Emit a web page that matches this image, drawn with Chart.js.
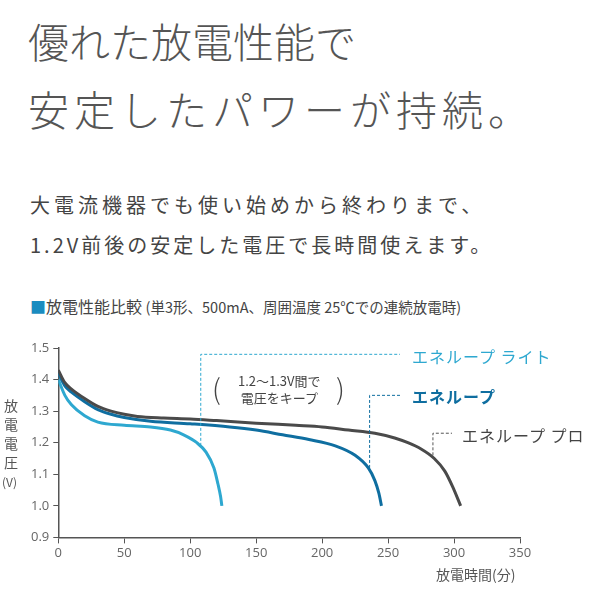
<!DOCTYPE html>
<html><head><meta charset="utf-8">
<script src="https://cdn.jsdelivr.net/npm/chart.js@4/dist/chart.umd.min.js"></script>
<style>
body{margin:0;width:600px;height:600px;background:#fff;font-family:"Noto Sans CJK JP","Noto Sans",sans-serif;color:#555;position:relative;overflow:hidden}
.t{position:absolute;left:28px;font-size:41px;font-weight:300;color:#555;letter-spacing:5px}
.s{position:absolute;left:30px;font-size:20px;color:#444;letter-spacing:4px}
#wrap{position:absolute;left:0;top:330px;width:600px;height:270px}
.lab{position:absolute;font-size:15px;white-space:nowrap}
</style></head><body>
<div class="t" style="top:10px;letter-spacing:0px">優れた放電性能で</div>
<div class="t" style="top:78px">安定したパワーが持続。</div>
<div class="s" style="top:190px">大電流機器でも使い始めから終わりまで、</div>
<div class="s" style="top:230px;letter-spacing:3px">1.2V前後の安定した電圧で長時間使えます。</div>
<div style="position:absolute;left:30px;top:294px;font-size:16px;color:#444"><span style="color:#1a8cc0">■</span>放電性能比較 <span style="font-size:14.5px">(単3形、500mA、周囲温度 25℃での連続放電時)</span></div>
<div id="wrap"><canvas id="c"></canvas></div>
<div class="lab" style="left:3px;top:396px;width:16px;line-height:19px;font-size:14px;text-align:center">放<br>電<br>電<br>圧<br><span style="font-size:12px;margin-left:-3px">(V)</span></div>
<div class="lab" style="left:436px;top:564px;font-size:14px">放電時間(分)</div>
<div class="lab" style="left:412px;top:344px;color:#2ea8d0;font-size:16px;letter-spacing:1px">エネループ ライト</div>
<div class="lab" style="left:412px;top:384px;color:#0f6ea0;font-size:16px;font-weight:bold;letter-spacing:1px">エネループ</div>
<div class="lab" style="left:462px;top:423px;color:#444;font-size:16px;letter-spacing:1px">エネループ プロ</div>
<div class="lab" style="left:212px;top:368px;font-size:28px;color:#444;font-weight:200">(</div>
<div class="lab" style="left:336px;top:368px;font-size:28px;color:#444;font-weight:200">)</div>
<div class="lab" style="left:238px;top:372px;font-size:13px;color:#444;line-height:17px;text-align:center">1.2〜1.3V間で<br>電圧をキープ</div>
<script>
const xTicks = [0, 50, 100, 150, 200, 250, 300, 350];
const proX = [0, 5, 10, 20, 30, 40, 50, 60, 80, 100, 120, 150, 180, 200, 220, 240, 255, 265, 275, 285, 293, 299, 305];
const proY = [1.43, 1.39, 1.37, 1.34, 1.315, 1.30, 1.29, 1.283, 1.278, 1.275, 1.27, 1.262, 1.255, 1.25, 1.24, 1.23, 1.215, 1.2, 1.18, 1.15, 1.11, 1.06, 1.0];
const stdX = [0, 5, 10, 20, 30, 40, 50, 70, 100, 130, 150, 170, 190, 210, 225, 235, 240, 243, 245];
const stdY = [1.42, 1.38, 1.36, 1.33, 1.305, 1.29, 1.28, 1.268, 1.26, 1.25, 1.24, 1.225, 1.21, 1.19, 1.16, 1.12, 1.08, 1.04, 1.0];
const liteX = [0, 5, 10, 20, 30, 50, 70, 85, 95, 105, 112, 118, 121, 123, 124];
const liteY = [1.40, 1.35, 1.32, 1.285, 1.265, 1.255, 1.25, 1.24, 1.225, 1.20, 1.17, 1.12, 1.07, 1.03, 1.0];
// leader lines: [x, yStart, yTop, xEndPx, color]
const leaders = [[108, 1.19, 1.48, 400, '#2ea8d0'], [236, 1.12, 1.35, 400, '#0f6ea0'], [284, 1.16, 1.23, 452, '#555']];

const pts = (xs, ys) => xs.map((x, i) => ({x: x, y: ys[i]}));
const leaderPlugin = {
  id: 'leaders',
  afterDatasetsDraw(chart) {
    const {ctx, scales: {x, y}} = chart;
    ctx.save();
    ctx.setLineDash([3, 2]);
    ctx.lineWidth = 1;
    leaders.forEach(l => {
      const cx = x.getPixelForValue(l[0]);
      const top = y.getPixelForValue(l[2]);
      ctx.strokeStyle = l[4];
      ctx.beginPath();
      ctx.moveTo(cx, y.getPixelForValue(l[1]));
      ctx.lineTo(cx, top);
      ctx.lineTo(l[3], top);
      ctx.stroke();
    });
    ctx.restore();
  }
};
const ds = (label, data, color) => ({label, data, borderColor: color, borderWidth: 3, pointRadius: 0, cubicInterpolationMode: 'monotone', fill: false});
new Chart(document.getElementById('c'), {
  type: 'line',
  data: {datasets: [
    ds('エネループ プロ', pts(proX, proY), '#4a4a4a'),
    ds('エネループ', pts(stdX, stdY), '#0f6ea0'),
    ds('エネループ ライト', pts(liteX, liteY), '#2ea8d0')
  ]},
  options: {
    responsive: true, maintainAspectRatio: false, animation: false,
    layout: {padding: {left: 27, right: 80, top: 18, bottom: 37}},
    plugins: {legend: {display: false}, tooltip: {enabled: false}},
    scales: {
      x: {type: 'linear', min: 0, max: 350,
        afterBuildTicks: a => { a.ticks = xTicks.map(v => ({value: v})); },
        grid: {drawOnChartArea: false, tickLength: 6, color: '#555'},
        border: {color: '#555', width: 1.5},
        ticks: {color: '#666', font: {size: 13, family: 'Open Sans'}, padding: 2, maxRotation: 0}},
      y: {min: 0.9, max: 1.5,
        ticks: {stepSize: 0.1, color: '#666', font: {size: 13, family: 'Open Sans'}, padding: 4, callback: v => v.toFixed(1)},
        grid: {drawOnChartArea: false, tickLength: 5, color: '#555'},
        border: {color: '#555', width: 1.5}}
    }
  },
  plugins: [leaderPlugin]
});
</script>
</body></html>
